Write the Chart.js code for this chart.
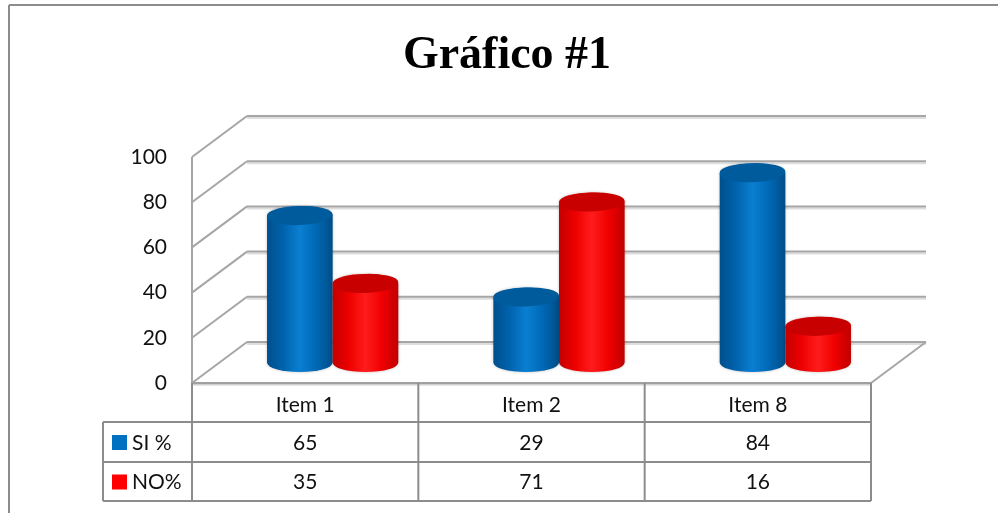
<!DOCTYPE html>
<html>
<head>
<meta charset="utf-8">
<script src="https://cdn.jsdelivr.net/npm/chart.js@4"></script>
<style>
  body { margin: 0; background: #fff; }
  canvas { display: block; }
</style>
</head>
<body>
<canvas id="grafico" width="998" height="513"></canvas>
<script>
  const chartTitle = 'Gráfico #1';
  const categories = ['Item 1', 'Item 2', 'Item 8'];
  const seriesNames = ['SI %', 'NO%'];
  const siValues = [65, 29, 84];
  const noValues = [35, 71, 16];
  const seriesColors = ['#0070C0', '#FF0000'];

  // depth of the 3d box (back wall = front + DX, -DY)
  const DX = 55, DY = 41;
  const lineGray = '#8c8c8c';
  const txtFont = '21px Lato';

  const cylShades = {
    '#0070C0': { stops: ['#004f8c', '#0063ad', '#0a7fd2', '#0068b5', '#004d88'], top: '#005b9c' },
    '#FF0000': { stops: ['#c40000', '#ee0000', '#ff1c1c', '#f00000', '#c00000'], top: '#c80000' }
  };

  function line(ctx, x1, y1, x2, y2, color, w) {
    ctx.beginPath();
    ctx.strokeStyle = color;
    ctx.lineWidth = w;
    ctx.moveTo(x1, y1);
    ctx.lineTo(x2, y2);
    ctx.stroke();
  }

  function drawCylinder(ctx, cx, rx, topY, baseY, color) {
    const ry = 9.5;
    const shade = cylShades[color];
    const g = ctx.createLinearGradient(cx - rx, 0, cx + rx, 0);
    shade.stops.forEach((c, i) => g.addColorStop(i / (shade.stops.length - 1), c));
    ctx.save();
    ctx.shadowColor = 'rgba(0,0,0,0.25)';
    ctx.shadowBlur = 3;
    ctx.beginPath();
    ctx.moveTo(cx - rx, topY);
    ctx.lineTo(cx - rx, baseY);
    ctx.ellipse(cx, baseY, rx, ry, 0, Math.PI, 0, true);
    ctx.lineTo(cx + rx, topY);
    ctx.ellipse(cx, topY, rx, ry, 0, 0, Math.PI, true);
    ctx.closePath();
    ctx.fillStyle = g;
    ctx.fill();
    ctx.restore();
    ctx.beginPath();
    ctx.ellipse(cx, topY, rx, ry, -0.04, 0, Math.PI * 2);
    ctx.fillStyle = shade.top;
    ctx.fill();
  }

  const box3d = {
    id: 'box3d',
    beforeDatasetsDraw(chart) {
      const ctx = chart.ctx;
      const { left, right, top, bottom } = chart.chartArea;
      const y = chart.scales.y;
      ctx.save();
      // outer frame
      line(ctx, 9, 5, 998, 5, lineGray, 2);
      line(ctx, 9, 5, 9, 513, lineGray, 2);
      // title
      ctx.fillStyle = '#000';
      ctx.font = 'bold 46px "Liberation Serif"';
      ctx.textAlign = 'center';
      ctx.textBaseline = 'alphabetic';
      ctx.fillText(chartTitle, 507, 68);
      // back wall grid + side wall
      y.ticks.forEach(t => {
        const yf = y.getPixelForValue(t.value);
        line(ctx, left + DX, yf - DY + 2, right + DX, yf - DY + 2, '#dddddd', 2);
        line(ctx, left + DX, yf - DY, right + DX, yf - DY, '#a6a6a6', 2);
        line(ctx, left, yf, left + DX, yf - DY, '#a6a6a6', 2);
      });
      line(ctx, left, top, left, bottom, '#a6a6a6', 2);
      // floor
      line(ctx, right, bottom, right + DX, bottom - DY, '#a6a6a6', 2);
      ctx.restore();
    },
    afterDatasetsDraw(chart) {
      const ctx = chart.ctx;
      const { left, right, bottom } = chart.chartArea;
      const x = chart.scales.x;
      ctx.save();
      for (let i = 0; i < categories.length; i++) {
        chart.data.datasets.forEach((ds, d) => {
          const bar = chart.getDatasetMeta(d).data[i];
          drawCylinder(ctx, bar.x + DX / 2, bar.width / 2, bar.y - DY / 2, bar.base - DY / 2, seriesColors[d]);
        });
      }
      // floor front edge
      line(ctx, left, bottom + 1, right, bottom + 1, '#cfcfcf', 3);
      line(ctx, left, bottom, right, bottom, '#a0a0a0', 2);

      // data table
      const rowH = [39, 40, 39];
      const r0 = bottom, r1 = r0 + rowH[0], r2 = r1 + rowH[1], r3 = r2 + rowH[2];
      const legL = 103;
      const colEdges = [left];
      for (let i = 0; i < categories.length; i++) {
        colEdges.push((x.getPixelForValue(i) + x.getPixelForValue(Math.min(i + 1, categories.length - 1))) / 2);
      }
      colEdges[categories.length] = right;
      colEdges.forEach(cx => line(ctx, cx, r0, cx, r3, lineGray, 2));
      line(ctx, legL, r1, right, r1, lineGray, 2);
      line(ctx, legL, r2, right, r2, lineGray, 2);
      line(ctx, legL, r3, right, r3, lineGray, 2);
      line(ctx, legL, r1, legL, r3, lineGray, 2);

      ctx.font = txtFont;
      ctx.fillStyle = '#111';
      ctx.textAlign = 'center';
      ctx.textBaseline = 'middle';
      categories.forEach((c, i) => {
        const cx = x.getPixelForValue(i);
        ctx.fillText(c, cx, (r0 + r1) / 2 + 3);
        chart.data.datasets.forEach((ds, d) => {
          const ry = d === 0 ? (r1 + r2) / 2 : (r2 + r3) / 2;
          ctx.fillText(String(ds.data[i]), cx, ry + 1);
        });
      });
      ctx.textAlign = 'left';
      chart.data.datasets.forEach((ds, d) => {
        const ry = d === 0 ? (r1 + r2) / 2 : (r2 + r3) / 2;
        ctx.fillStyle = seriesColors[d];
        ctx.fillRect(112, ry - 7, 15, 15);
        ctx.fillStyle = '#111';
        ctx.fillText(ds.label, 132, ry + 1);
      });
      ctx.restore();
    }
  };

  new Chart(document.getElementById('grafico'), {
    type: 'bar',
    data: {
      labels: categories,
      datasets: [
        { label: seriesNames[0], data: siValues, backgroundColor: 'rgba(0,0,0,0)' },
        { label: seriesNames[1], data: noValues, backgroundColor: 'rgba(0,0,0,0)' }
      ]
    },
    options: {
      responsive: false,
      animation: false,
      categoryPercentage: 0.58,
      barPercentage: 1,
      layout: { padding: { left: 0, top: 157, right: 127, bottom: 130 } },
      plugins: {
        legend: { display: false },
        title: { display: false },
        tooltip: { enabled: false }
      },
      scales: {
        x: { display: false, offset: true },
        y: {
          min: 0,
          max: 100,
          afterFit: s => { s.width = 192; },
          grid: { display: false, drawTicks: false },
          border: { display: false },
          ticks: { stepSize: 20, padding: 25, color: '#111', font: { family: 'Lato', size: 21 } }
        }
      }
    },
    plugins: [box3d]
  });
</script>
</body>
</html>
